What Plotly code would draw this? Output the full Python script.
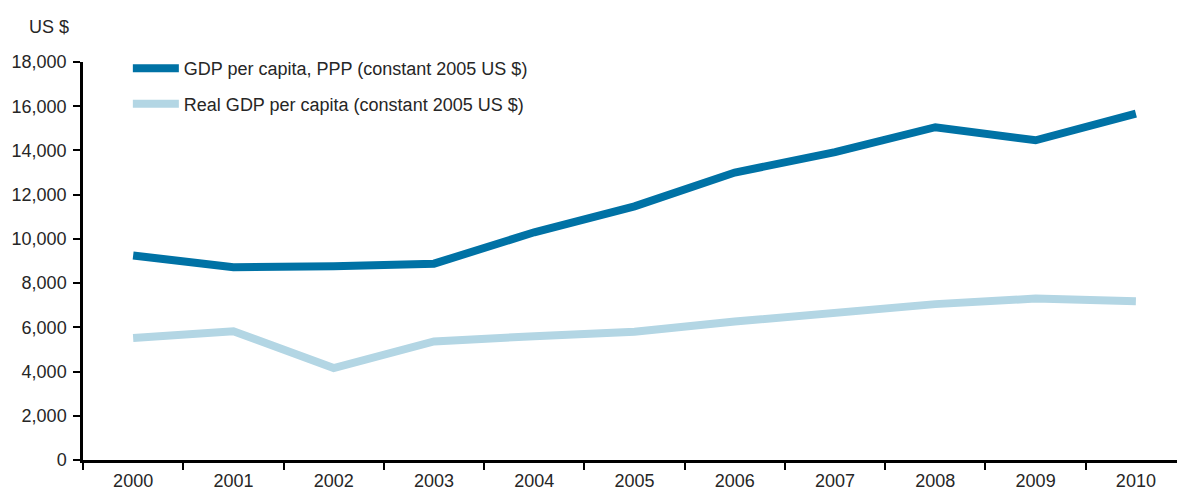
import plotly.graph_objects as go

years = ["2000", "2001", "2002", "2003", "2004", "2005",
         "2006", "2007", "2008", "2009", "2010"]
gdp_ppp = [9250, 8720, 8760, 8880, 10300, 11470,
           13000, 13920, 15050, 14460, 15660]
gdp_real = [5520, 5820, 4160, 5360, 5600, 5800,
            6260, 6620, 7050, 7300, 7180]

DARK = "#0072a5"
LIGHT = "#b3d6e4"
FONT = "Liberation Sans, Arial, sans-serif"
TXT = "#262626"

fig = go.Figure()
fig.add_trace(go.Scatter(
    x=years, y=gdp_ppp, mode="lines", name="GDP per capita, PPP (constant 2005 US $)",
    line=dict(color=DARK, width=8), legendgroup="a"))
fig.add_trace(go.Scatter(
    x=years, y=gdp_real, mode="lines", name="Real GDP per capita (constant 2005 US $)",
    line=dict(color=LIGHT, width=8), legendgroup="b"))

fig.update_layout(
    width=1177, height=491,
    margin=dict(l=83, r=0, t=62, b=31, autoexpand=False),
    paper_bgcolor="white", plot_bgcolor="white",
    font=dict(family=FONT, size=18, color=TXT),
    showlegend=True,
    legend=dict(x=0.041, y=1.03, xanchor="left", yanchor="top",
                bgcolor="rgba(0,0,0,0)", tracegroupgap=9, itemwidth=46,
                font=dict(size=18, color=TXT)),
    xaxis=dict(type="category", tickson="boundaries", range=[-0.5, 10.41],
               showline=True, linecolor="black", linewidth=2.5,
               ticks="outside", ticklen=7, tickwidth=2, tickcolor="black",
               ticklabelstandoff=3, showgrid=False, zeroline=False),
    yaxis=dict(range=[0, 18000], tickvals=list(range(0, 18001, 2000)),
               tickformat=",d", showline=True, linecolor="black", linewidth=2.5,
               ticks="outside", ticklen=7, tickwidth=2, tickcolor="black",
               ticklabelstandoff=3, showgrid=False, zeroline=False),
    annotations=[dict(text="US $", xref="paper", yref="paper", x=-0.051, y=1.0,
                      yshift=35, xanchor="left", yanchor="middle",
                      showarrow=False, font=dict(size=18, color=TXT))],
)

fig.write_html("out.html")
